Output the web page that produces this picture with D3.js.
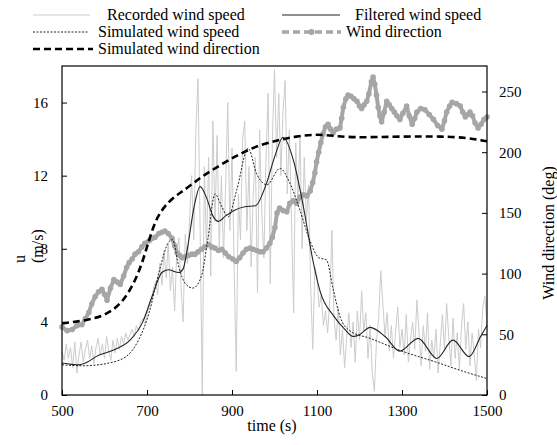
<!DOCTYPE html>
<html>
<head>
<meta charset="utf-8">
<script src="https://cdn.jsdelivr.net/npm/d3@7"></script>
<style>
  body { margin: 0; background: #fff; }
  text { font-family: "Liberation Serif", "Times New Roman", serif; fill: #000; }
</style>
</head>
<body>
<div id="chart"></div>
<script>
// Recorded wind speed, one value every 5 s from 500 to 1500 s
const recordedTime = d3.range(500, 1501, 5);
const recordedSpeed = [
  2.4, 1.9, 2.8, 2.0, 2.6, 1.5, 2.9, 1.2, 2.2, 2.9, 1.8, 2.5, 3.0, 2.0, 2.7, 1.7, 2.6, 3.1, 2.2, 2.8,
  2.0, 3.2, 2.4, 1.9, 3.0, 2.3, 3.1, 2.5, 3.2, 2.8, 3.4, 3.0, 3.3, 3.6, 3.2, 3.8, 3.5, 4.0, 4.2, 3.9,
  4.4, 4.8, 5.1, 5.8, 6.2, 5.5, 7.2, 6.0, 7.9, 6.4, 8.3, 5.7, 7.0, 4.6, 7.8, 8.6, 5.9, 4.0, 8.8, 7.2,
  9.5, 12.0, 8.5, 14.5, 17.3, 9.0, 0.0, 12.5, 8.0, 13.0, 6.5, 15.0, 9.5, 14.2, 8.0, 12.0, 7.5, 11.5, 16.0, 9.0,
  13.5, 7.0, 1.3, 11.0, 8.5, 14.0, 15.0, 9.0, 12.5, 7.0, 11.0, 13.0, 5.6, 14.5, 10.0, 7.5, 13.0, 16.5, 6.1, 14.0,
  17.8, 13.0, 16.5, 12.0, 15.5, 17.2, 11.0, 14.5, 9.5, 4.5, 13.8, 10.5, 14.2, 8.0, 13.0, 9.5, 11.5, 6.0, 2.5, 7.0,
  6.5, 4.8, 5.5, 3.8, 4.6, 3.4, 5.2, 9.0, 4.2, 3.0, 4.8, 2.2, 3.6, 1.5, 3.2, 4.5, 2.6, 4.0, 1.8, 4.6,
  3.0, 5.7, 3.5, 4.5, 2.0, 3.8, 1.2, 0.2, 3.0, 4.2, 6.8, 5.0, 3.2, 4.5, 2.4, 3.8, 2.0, 3.5, 4.8, 2.6,
  3.6, 2.2, 4.4, 1.8, 3.0, 4.0, 2.5, 5.2, 3.4, 1.6, 3.8, 2.4, 4.5, 1.4, 3.0, 2.0, 3.6, 1.2, 2.8, 4.4,
  2.4, 5.0, 3.2, 1.6, 4.2, 2.0, 3.4, 1.4, 3.8, 5.0, 2.5, 4.0, 1.6, 3.4, 2.2, 0.8, 3.6, 2.6, 4.8, 5.4,
  3.8
];

// Filtered wind speed
const filteredTime = [500, 540, 560, 580, 620, 660, 690, 712, 735, 750, 775, 785, 795, 810, 825, 840, 855, 868, 885, 905,
  930, 955, 980, 1000, 1020, 1045, 1068, 1090, 1107, 1140, 1165, 1185, 1200, 1225, 1260, 1295, 1338, 1382, 1420, 1458, 1485, 1500];
const filteredSpeed = [1.75, 1.65, 1.8, 2.1, 2.45, 3.0, 4.0, 5.4, 6.7, 6.85, 6.7, 6.9, 8.0, 10.2, 11.4, 10.8, 9.8, 9.5, 9.8, 10.1,
  10.3, 10.35, 11.5, 13.0, 14.1, 12.8, 10.3, 7.4, 5.7, 4.3, 3.6, 3.2, 3.3, 3.7, 3.2, 2.4, 3.1, 2.0, 3.0, 2.1, 3.2, 3.8];

// Simulated wind speed
const simSpeedTime = [500, 550, 620, 660, 680, 705, 728, 752, 760, 775, 790, 808, 828, 843, 860, 876, 891, 911, 938, 958,
  982, 1013, 1036, 1060, 1084, 1105, 1122, 1138, 1154, 1178, 1225, 1300, 1380, 1437, 1500];
const simSpeed = [1.65, 1.6, 1.8, 2.3, 3.0, 4.5, 6.7, 8.4, 8.5, 7.0, 6.1, 5.85, 6.5, 8.5, 11.0, 10.3, 9.75, 11.2, 13.5, 12.1,
  11.5, 12.4, 11.6, 10.1, 8.4, 7.5, 7.4, 5.8, 4.3, 3.5, 3.1, 2.4, 1.8, 1.35, 0.9];

// Recorded wind direction (deg)
const dirTime = [500, 512, 524, 535, 547, 555, 563, 570, 578, 586, 594, 600, 606, 614, 622, 630, 637, 645, 652, 658,
  665, 672, 680, 688, 695, 705, 712, 719, 728, 735, 742, 750, 759, 765, 771, 777, 783, 790, 798, 806,
  813, 820, 828, 836, 845, 852, 860, 868, 876, 884, 892, 902, 910, 918, 926, 934, 942, 950, 958, 966,
  973, 981, 989, 995, 1001, 1006, 1012, 1020, 1029, 1036, 1044, 1052, 1060, 1068, 1076, 1084, 1090, 1095, 1099, 1104,
  1109, 1114, 1120, 1126, 1132, 1138, 1146, 1154, 1158, 1162, 1168, 1173, 1180, 1187, 1194, 1200, 1205, 1211, 1217, 1222,
  1228, 1232, 1236, 1240, 1244, 1248, 1252, 1258, 1264, 1270, 1276, 1282, 1288, 1295, 1302, 1311, 1317, 1324, 1330, 1335,
  1344, 1354, 1364, 1374, 1384, 1394, 1400, 1405, 1412, 1418, 1428, 1437, 1443, 1449, 1455, 1460, 1466, 1472, 1479, 1486,
  1493, 1500];
const dirValue = [56, 53, 54, 57, 58, 63, 68, 75, 81, 85, 87, 83, 78, 88, 95, 93, 91, 98, 105, 109,
  112, 116, 118, 122, 125, 127, 129, 130, 133, 134, 135, 133, 129, 123, 117, 115, 113, 114, 115, 116,
  116, 118, 120, 122, 124, 122, 121, 119, 120, 117, 114, 112, 110, 113, 117, 120, 121, 120, 119, 118,
  118, 121, 125, 130, 138, 150, 154, 152, 151, 158, 160, 158, 163, 165, 164, 168, 175, 183, 192, 200,
  208, 215, 221, 223, 219, 216, 219, 220, 228, 237, 244, 247, 246, 244, 242, 238, 236, 239, 242, 248,
  258, 262, 256, 247, 237, 230, 225, 233, 242, 239, 236, 233, 230, 227, 232, 238, 230, 223, 228, 233,
  236, 235, 231, 227, 222, 219, 226, 233, 238, 241, 240, 238, 233, 229, 231, 233, 230, 224, 220, 223,
  227, 229];

// Simulated wind direction (deg)
const simDirTime = [500, 550, 600, 640, 670, 690, 705, 720, 740, 760, 780, 800, 825, 870, 920, 965, 1010, 1050, 1100, 1150, 1200, 1300, 1400, 1450, 1500];
const simDir = [59, 61, 65, 75, 92, 110, 128, 144, 155, 162, 167, 172, 179, 189, 199, 206, 210, 213, 215, 213, 212, 213, 213, 212, 209];

// Axis ticks
const xTicks = [500, 700, 900, 1100, 1300, 1500];
const yTicks = [0, 4, 8, 12, 16];
const y2Ticks = [0, 50, 100, 150, 200, 250];

// Setup SVG dimensions
const margin = { top: 66, right: 70, bottom: 50, left: 62 };
const width = 557 - margin.left - margin.right;
const height = 445 - margin.top - margin.bottom;

const root = d3.select("#chart")
  .append("svg")
  .attr("width", 557)
  .attr("height", 445);

const svg = root.append("g")
  .attr("transform", "translate(" + margin.left + "," + margin.top + ")");

// Scales
const x = d3.scaleLinear().domain([500, 1500]).range([0, width]);
const y = d3.scaleLinear().domain([0, 18]).range([height, 0]);
const y2 = d3.scaleLinear().domain([0, 271]).range([height, 0]);

const zip = (ts, vs) => ts.map((t, i) => ({ t: t, v: vs[i] }));

const lineLeft = curve => d3.line().x(d => x(d.t)).y(d => y(d.v)).curve(curve);
const lineRight = curve => d3.line().x(d => x(d.t)).y(d => y2(d.v)).curve(curve);

// Recorded wind speed
svg.append("path")
  .datum(zip(recordedTime, recordedSpeed))
  .attr("fill", "none")
  .attr("stroke", "#cccccc")
  .attr("stroke-width", 1)
  .attr("d", lineLeft(d3.curveLinear));

// Wind direction (thick gray with markers)
const dirData = zip(dirTime, dirValue);
svg.append("path")
  .datum(dirData)
  .attr("fill", "none")
  .attr("stroke", "#a6a6a6")
  .attr("stroke-width", 4)
  .attr("stroke-linejoin", "round")
  .attr("d", lineRight(d3.curveLinear));

svg.selectAll(".dir-dot")
  .data(dirData)
  .enter().append("circle")
  .attr("class", "dir-dot")
  .attr("cx", d => x(d.t))
  .attr("cy", d => y2(d.v))
  .attr("r", 2.8)
  .attr("fill", "#a6a6a6");

// Simulated wind direction
svg.append("path")
  .datum(zip(simDirTime, simDir))
  .attr("fill", "none")
  .attr("stroke", "#000")
  .attr("stroke-width", 2.6)
  .attr("stroke-dasharray", "7,4")
  .attr("d", lineRight(d3.curveBasis));

// Filtered wind speed
svg.append("path")
  .datum(zip(filteredTime, filteredSpeed))
  .attr("fill", "none")
  .attr("stroke", "#222")
  .attr("stroke-width", 1.1)
  .attr("d", lineLeft(d3.curveMonotoneX));

// Simulated wind speed
svg.append("path")
  .datum(zip(simSpeedTime, simSpeed))
  .attr("fill", "none")
  .attr("stroke", "#222")
  .attr("stroke-width", 1)
  .attr("stroke-dasharray", "2,1.5")
  .attr("d", lineLeft(d3.curveMonotoneX));

// Frame
svg.append("rect")
  .attr("width", width)
  .attr("height", height)
  .attr("fill", "none")
  .attr("stroke", "#000")
  .attr("stroke-width", 1.2);

// Axes with inside ticks
const fmt = d3.format("d");
const xAxis = svg.append("g")
  .attr("transform", "translate(0," + height + ")")
  .call(d3.axisBottom(x).tickValues(xTicks).tickFormat(fmt).tickSizeInner(-5).tickSizeOuter(0).tickPadding(10));

const yAxis = svg.append("g")
  .call(d3.axisLeft(y).tickValues(yTicks).tickFormat(fmt).tickSizeInner(-5).tickSizeOuter(0).tickPadding(14));

const y2Axis = svg.append("g")
  .attr("transform", "translate(" + width + ",0)")
  .call(d3.axisRight(y2).tickValues(y2Ticks).tickFormat(fmt).tickSizeInner(-5).tickSizeOuter(0).tickPadding(12));

[xAxis, yAxis, y2Axis].forEach(g => {
  g.select(".domain").remove();
  g.selectAll("line").attr("stroke", "#000");
  g.selectAll("text")
    .style("font-family", "'Liberation Serif', serif")
    .style("font-size", "15px");
});

// Axis titles
root.append("text")
  .attr("x", 272)
  .attr("y", 431)
  .attr("text-anchor", "middle")
  .style("font-size", "16px")
  .text("time (s)");

root.append("text")
  .attr("transform", "translate(25,263) rotate(-90)")
  .attr("text-anchor", "start")
  .style("font-size", "16px")
  .text("u");

root.append("text")
  .attr("transform", "translate(43,263) rotate(-90)")
  .attr("text-anchor", "start")
  .style("font-size", "16px")
  .text("(m/s)");

root.append("text")
  .attr("transform", "translate(554,233) rotate(-90)")
  .attr("text-anchor", "middle")
  .style("font-size", "16px")
  .text("Wind direction (deg)");

// Legend
const legendItems = [
  { name: "Recorded wind speed", x1: 33, x2: 90, tx: 107, y: 15, stroke: "#cccccc", w: 1, dash: null, dot: false },
  { name: "Filtered wind speed", x1: 282, x2: 340, tx: 355, y: 15, stroke: "#222", w: 1.1, dash: null, dot: false },
  { name: "Simulated wind speed", x1: 33, x2: 88, tx: 98, y: 32, stroke: "#222", w: 1, dash: "2,1.5", dot: false },
  { name: "Wind direction", x1: 282, x2: 341, tx: 346, y: 32, stroke: "#a6a6a6", w: 3.5, dash: "7,4", dot: true },
  { name: "Simulated wind direction", x1: 33, x2: 93, tx: 98, y: 49, stroke: "#000", w: 2.6, dash: "7,4", dot: false }
];

const legend = root.append("g").attr("class", "legend");

legendItems.forEach(d => {
  legend.append("line")
    .attr("x1", d.x1).attr("x2", d.x2)
    .attr("y1", d.y).attr("y2", d.y)
    .attr("stroke", d.stroke)
    .attr("stroke-width", d.w)
    .attr("stroke-dasharray", d.dash);
  if (d.dot) {
    legend.append("circle")
      .attr("cx", (d.x1 + d.x2) / 2)
      .attr("cy", d.y)
      .attr("r", 3)
      .attr("fill", d.stroke);
  }
  legend.append("text")
    .attr("x", d.tx)
    .attr("y", d.y + 5)
    .style("font-size", "16px")
    .text(d.name);
});
</script>
</body>
</html>
